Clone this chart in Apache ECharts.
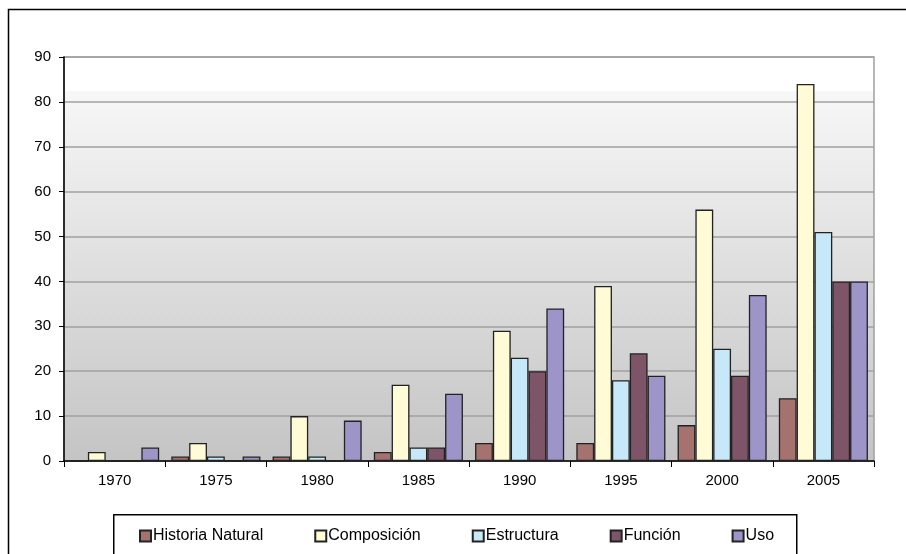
<!DOCTYPE html>
<html>
<head>
<meta charset="utf-8">
<script src="https://cdn.jsdelivr.net/npm/echarts@6/dist/echarts.min.js"></script>
<style>html,body{margin:0;padding:0;background:#fff}#c{width:906px;height:554px}</style>
</head>
<body>
<div id="c"></div>
<script>
const years = ['1970','1975','1980','1985','1990','1995','2000','2005'];
const historiaNatural = [0, 1, 1, 2, 4, 4, 8, 14];
const composicion = [2, 4, 10, 17, 29, 39, 56, 84];
const estructura = [0, 1, 1, 3, 23, 18, 25, 51];
const funcion = [0, 0, 0, 3, 20, 24, 19, 40];
const uso = [3, 1, 9, 15, 34, 19, 37, 40];
const yTicks = [0, 10, 20, 30, 40, 50, 60, 70, 80, 90];

const names = ['Historia Natural', 'Composición', 'Estructura', 'Función', 'Uso'];
const colors = ['#A57270', '#FFFBD6', '#C6E8F8', '#7E5469', '#9D95C8'];
const seriesData = [historiaNatural, composicion, estructura, funcion, uso];

const chart = echarts.init(document.getElementById('c'), null, {renderer: 'canvas'});
const font = 'Liberation Sans, Arial, sans-serif';
chart.setOption({
  animation: false,
  textStyle: {fontFamily: font},
  graphic: [{
    type: 'rect', left: 6, top: 7, z: -10,
    shape: {x: 0, y: 0, width: 1000, height: 1000},
    style: {fill: 'none', stroke: '#000', lineWidth: 1.5}
  }, {
    type: 'rect', left: 113, top: 514, z: -10,
    shape: {x: 0, y: 0, width: 683, height: 60},
    style: {fill: '#fff', stroke: '#000', lineWidth: 1.5}
  }],
  grid: {
    left: 64, right: 32, top: 57, bottom: 93,
    show: true,
    borderColor: '#a0a0a0', borderWidth: 1.5,
    backgroundColor: new echarts.graphic.LinearGradient(0, 0, 0, 1, [
      {offset: 0, color: '#ffffff'},
      {offset: 0.086, color: '#ffffff'},
      {offset: 0.087, color: '#f7f7f7'},
      {offset: 1, color: '#c4c4c4'}
    ])
  },
  legend: {
    data: names,
    left: 139, top: 528,
    padding: 0,
    itemGap: 51,
    itemWidth: 11, itemHeight: 11,
    textStyle: {fontSize: 16, color: '#000', fontFamily: font, padding: [0, 0, 0, -3]},
    icon: 'rect'
  },
  xAxis: {
    type: 'category',
    data: years,
    axisLine: {lineStyle: {color: '#000', width: 1.5}},
    axisTick: {show: true, length: 6, lineStyle: {color: '#000'}, alignWithLabel: false},
    axisLabel: {fontSize: 15, color: '#000', margin: 12, fontFamily: font},
    splitLine: {show: false}
  },
  yAxis: {
    type: 'value',
    min: 0, max: 90, interval: 10,
    axisLine: {show: true, lineStyle: {color: '#000', width: 1.5}},
    axisTick: {show: true, length: 5, lineStyle: {color: '#000'}},
    axisLabel: {fontSize: 15, color: '#000', margin: 13, fontFamily: font},
    splitLine: {show: true, lineStyle: {color: '#a0a0a0', width: 1.5}}
  },
  series: seriesData.map((d, i) => ({
    name: names[i],
    type: 'bar',
    data: d,
    barGap: '0%',
    barCategoryGap: '12%',
    itemStyle: {color: colors[i], borderColor: '#222', borderWidth: 1.3}
  }))
});
</script>
</body>
</html>
